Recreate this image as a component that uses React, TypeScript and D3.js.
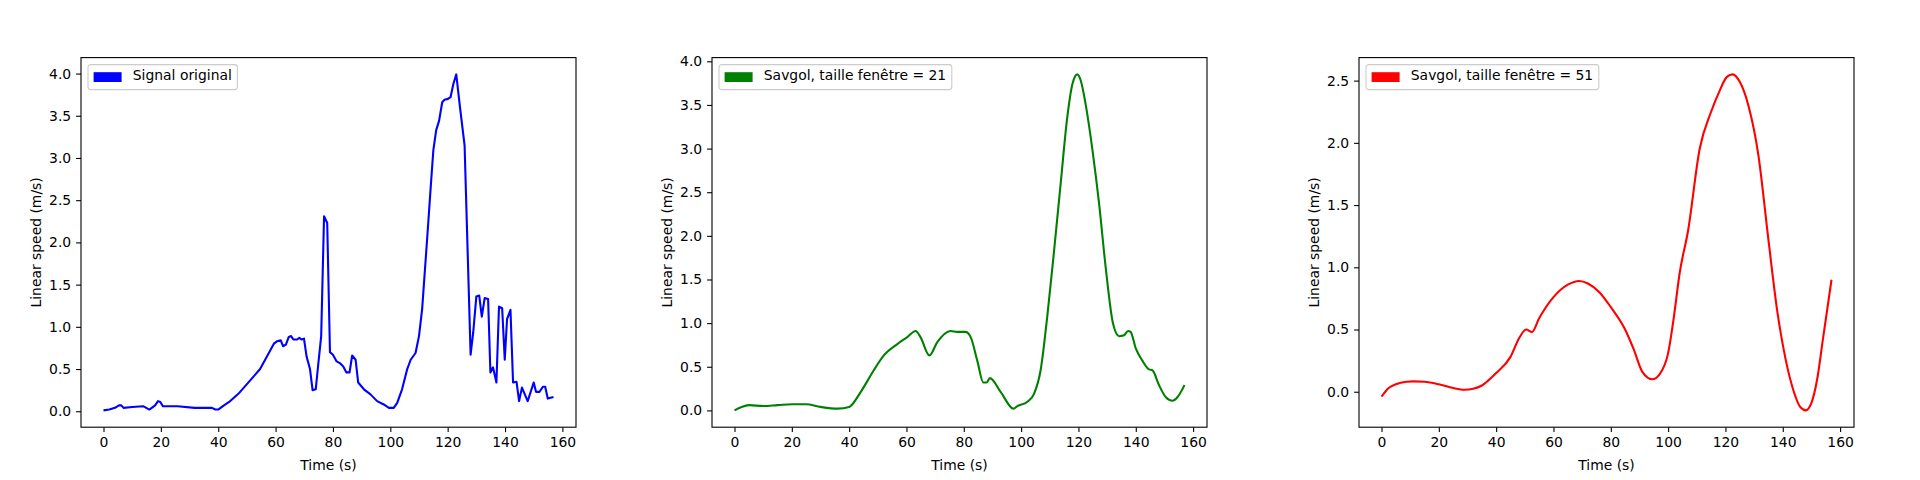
import { useRef, useEffect } from 'react'
import * as d3 from 'd3'

type Pt = [number, number]

// Signal original (blue)
const originalSignal: Pt[] = [
  [0, 0.01], [2, 0.02], [4, 0.04], [5.4, 0.07], [6.2, 0.07], [7, 0.04], [10, 0.05], [13.8, 0.06],
  [16, 0.02], [18, 0.07], [19, 0.12], [19.8, 0.11], [20.7, 0.06], [25.8, 0.06], [31.8, 0.04],
  [37.8, 0.04], [39, 0.02], [40, 0.02], [42, 0.07], [43.8, 0.11], [47.4, 0.22], [51, 0.36],
  [54.6, 0.5], [57.5, 0.68], [59.4, 0.8], [60.6, 0.83], [61.8, 0.84], [62.6, 0.77], [63.6, 0.79],
  [64.6, 0.88], [65.4, 0.89], [66.2, 0.85], [67.5, 0.85], [68.3, 0.87], [69, 0.85], [69.9, 0.86],
  [70.8, 0.65], [72, 0.5], [72.9, 0.25], [74, 0.26], [74.8, 0.53], [75.9, 0.89], [76.9, 2.31],
  [78, 2.23], [78.96, 0.7], [80, 0.67], [81.3, 0.59], [82.4, 0.57], [83.6, 0.53], [84.7, 0.46],
  [85.8, 0.46], [86.7, 0.66], [87.9, 0.61], [88.8, 0.34], [90.8, 0.26], [93.1, 0.2], [95.4, 0.12],
  [97.7, 0.08], [99.5, 0.04], [101.2, 0.04], [102.4, 0.1], [104.1, 0.26], [105.9, 0.5], [107.1, 0.61],
  [108.8, 0.69], [110, 0.89], [111.1, 1.21], [112.9, 2.07], [114.1, 2.66], [115, 3.09], [116, 3.33],
  [117, 3.44], [118.1, 3.66], [118.9, 3.69], [120.1, 3.7], [121, 3.72], [122, 3.88], [123, 3.99],
  [124.3, 3.6], [125.9, 3.15], [128, 0.67], [128.9, 0.93], [130, 1.36], [131, 1.37], [131.9, 1.12],
  [132.9, 1.34], [134.1, 1.33], [134.9, 0.46], [135.8, 0.52], [137, 0.34], [137.9, 1.24], [139, 1.22],
  [139.9, 0.61], [140.7, 1.09], [141.9, 1.2], [142.8, 0.34], [144, 0.35], [144.9, 0.12], [145.9, 0.28],
  [147.9, 0.12], [150, 0.34], [150.8, 0.23], [152, 0.23], [153.2, 0.29], [154, 0.29], [154.9, 0.15],
  [156.9, 0.17],
]

// Savgol, window 21 (green)
const savgol21: Pt[] = [
  [0, 0.0], [2.5, 0.04], [5, 0.06], [10, 0.05], [15, 0.06], [20, 0.07], [25, 0.07], [30, 0.04],
  [36, 0.02], [40, 0.04], [44, 0.21], [48.6, 0.46], [52.1, 0.63], [56.8, 0.76], [60.3, 0.84],
  [63.2, 0.91], [64.9, 0.84], [68, 0.63], [70.7, 0.78], [75.4, 0.91], [77.7, 0.9], [80.6, 0.9],
  [82.4, 0.84], [84.7, 0.57], [86.8, 0.32], [88, 0.32], [89.1, 0.37], [92.9, 0.21], [97.3, 0.02],
  [98.7, 0.05], [102.2, 0.1], [104.5, 0.19], [106.8, 0.46], [109.1, 1.07], [111.5, 1.83],
  [113.8, 2.6], [116.1, 3.36], [117.9, 3.74], [119.6, 3.85], [120.8, 3.78], [122.5, 3.51],
  [124.9, 2.98], [127.2, 2.37], [129.5, 1.64], [132.1, 0.99], [134.2, 0.85], [135.9, 0.86],
  [137.3, 0.91], [138.2, 0.9], [140, 0.71], [142.3, 0.57], [144.6, 0.47], [145.8, 0.46],
  [148.1, 0.29], [150.5, 0.15], [152.8, 0.11], [154.5, 0.15], [157, 0.29],
]

// Savgol, window 51 (red)
const savgol51: Pt[] = [
  [0, -0.04], [2.5, 0.03], [5, 0.06], [8.7, 0.08], [11, 0.083], [15, 0.08], [20, 0.06], [25, 0.03],
  [29, 0.016], [32, 0.024], [35, 0.05], [40, 0.15], [45, 0.28], [48, 0.43], [50.5, 0.5],
  [52.5, 0.48], [55, 0.59], [60, 0.76], [65, 0.86], [69, 0.89], [72, 0.87], [76, 0.8], [80, 0.68],
  [85, 0.5], [88, 0.34], [91, 0.16], [94.5, 0.1], [97, 0.14], [100, 0.31], [102, 0.6], [104, 0.95],
  [107, 1.3], [111, 1.95], [115, 2.25], [118, 2.42], [120.5, 2.53], [122.5, 2.55], [125, 2.49],
  [128, 2.3], [131.5, 1.9], [135, 1.22], [138, 0.66], [141, 0.26], [144, -0.01], [146, -0.12],
  [148, -0.15], [150, -0.09], [152, 0.1], [154, 0.42], [157, 0.9],
]

const xTicks = [0, 20, 40, 60, 80, 100, 120, 140, 160]
const yTicks1 = [0, 0.5, 1.0, 1.5, 2.0, 2.5, 3.0, 3.5, 4.0]
const yTicks2 = [0, 0.5, 1.0, 1.5, 2.0, 2.5, 3.0, 3.5, 4.0]
const yTicks3 = [0, 0.5, 1.0, 1.5, 2.0, 2.5]

const panels = [
  { data: originalSignal, color: '#0000ff', label: 'Signal original', yTicks: yTicks1 },
  { data: savgol21, color: '#008000', label: 'Savgol, taille fenêtre = 21', yTicks: yTicks2 },
  { data: savgol51, color: '#ff0000', label: 'Savgol, taille fenêtre = 51', yTicks: yTicks3 },
]

const W = 1920
const H = 480
const lefts = [81, 712, 1359]
const axW = 495
const top = 57.6
const bottom = 427.2
const FONT = 'DejaVu Sans, sans-serif'
const FS = 13.9

export default function App() {
  const svgRef = useRef<SVGSVGElement>(null)

  useEffect(() => {
    if (!svgRef.current) return
    const svg = d3.select(svgRef.current)
    svg.selectAll('*').remove()
    svg.append('rect').attr('width', W).attr('height', H).attr('fill', '#fff')

    panels.forEach((p, i) => {
      const g = svg.append('g').attr('transform', `translate(${lefts[i]},${top})`)
      const h = bottom - top

      const xs = p.data.map((d) => d[0])
      const ys = p.data.map((d) => d[1])
      const x0 = d3.min(xs)!, x1 = d3.max(xs)!
      const y0 = d3.min(ys)!, y1 = d3.max(ys)!
      const mx = (x1 - x0) * 0.05, my = (y1 - y0) * 0.05

      const x = d3.scaleLinear().domain([x0 - mx, x1 + mx]).range([0, axW])
      const y = d3.scaleLinear().domain([y0 - my, y1 + my]).range([h, 0])

      const clipId = `clip-${i}`
      g.append('clipPath').attr('id', clipId).append('rect').attr('width', axW).attr('height', h)

      const line = d3.line<Pt>().x((d) => x(d[0])).y((d) => y(d[1])).curve(i === 0 ? d3.curveLinear : d3.curveMonotoneX)
      g.append('path')
        .datum(p.data)
        .attr('clip-path', `url(#${clipId})`)
        .attr('fill', 'none')
        .attr('stroke', p.color)
        .attr('stroke-width', 2.1)
        .attr('stroke-linejoin', 'round')
        .attr('d', line)

      // X axis
      const xa = g.append('g').attr('transform', `translate(0,${h})`)
        .call(d3.axisBottom(x).tickValues(xTicks).tickSize(4.9).tickPadding(4.9).tickFormat(d3.format('d')))
      xa.select('.domain').remove()
      xa.selectAll('.tick line').attr('stroke', '#000').attr('stroke-width', 1.1)
      xa.selectAll('.tick text').attr('fill', '#000').attr('font-family', FONT).attr('font-size', FS)

      // Y axis
      const ya = g.append('g')
        .call(d3.axisLeft(y).tickValues(p.yTicks).tickSize(4.9).tickPadding(4.9).tickFormat(d3.format('.1f')))
      ya.select('.domain').remove()
      ya.selectAll('.tick line').attr('stroke', '#000').attr('stroke-width', 1.1)
      ya.selectAll('.tick text').attr('fill', '#000').attr('font-family', FONT).attr('font-size', FS)

      // Frame
      g.append('rect').attr('width', axW).attr('height', h)
        .attr('fill', 'none').attr('stroke', '#000').attr('stroke-width', 1.1)

      // Labels
      g.append('text')
        .attr('x', axW / 2).attr('y', h + 43)
        .attr('text-anchor', 'middle').attr('font-family', FONT).attr('font-size', FS)
        .text('Time (s)')
      g.append('text')
        .attr('transform', `translate(-40,${h / 2}) rotate(-90)`)
        .attr('text-anchor', 'middle').attr('font-family', FONT).attr('font-size', FS)
        .text('Linear speed (m/s)')

      // Legend
      const lg = g.append('g').attr('transform', 'translate(7,7)')
      const txt = lg.append('text')
        .attr('x', 5.6 + 28 + 11.2).attr('y', 15.5)
        .attr('font-family', FONT).attr('font-size', FS)
        .text(p.label)
      const tw = (txt.node() as SVGTextElement).getComputedTextLength()
      lg.insert('rect', 'text')
        .attr('width', 5.6 + 28 + 11.2 + tw + 5.6).attr('height', 25)
        .attr('rx', 2.8).attr('fill', '#fff').attr('fill-opacity', 0.8)
        .attr('stroke', '#cccccc').attr('stroke-width', 1.1)
      lg.append('rect')
        .attr('x', 5.6).attr('y', 7.6).attr('width', 28).attr('height', 9.8)
        .attr('fill', p.color)
    })
  }, [])

  return (
    <svg ref={svgRef} width={W} height={H} style={{ position: 'absolute', left: 0, top: 0 }} />
  )
}
